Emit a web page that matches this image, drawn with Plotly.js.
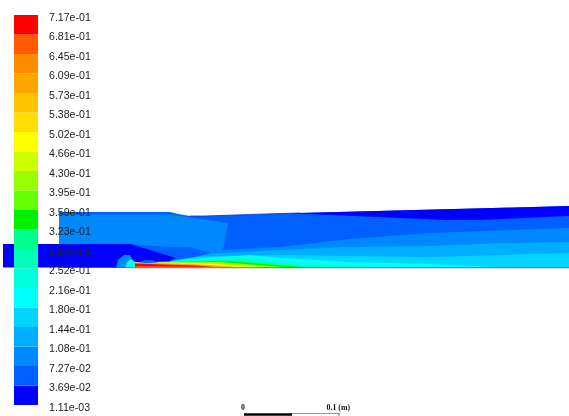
<!DOCTYPE html>
<html><head><meta charset="utf-8">
<script src="https://cdn.plot.ly/plotly-3.0.1.min.js"></script>
<style>html,body{margin:0;padding:0;background:#fff}#c{width:569px;height:416px;filter:blur(0.6px)}</style>
</head><body><div id="c"></div>
<script>
// Colour scale, bottom to top
const levelLabels = ["1.11e-03","3.69e-02","7.27e-02","1.08e-01","1.44e-01","1.80e-01","2.16e-01","2.52e-01","2.87e-01","3.23e-01","3.59e-01","3.95e-01","4.30e-01","4.66e-01","5.02e-01","5.38e-01","5.73e-01","6.09e-01","6.45e-01","6.81e-01","7.17e-01"];
const bandColors = ["#0000ff","#0060ff","#0088ff","#00aeff","#00d4ff","#00ffff","#00ffdc","#00ffb8","#00ff8c","#00f000","#66ff00","#99ff00","#ccff00","#ffff00","#ffdd00","#ffc400","#ffa500","#ff8c00","#ff5a00","#ff0000"];

// Contour regions (x along the wall, y down the picture)
const domainX = [59,170,178,190,205,280,569,569,59];
const domainY = [212,212,214,216,216,213.5,206,267.5,267.5];
const outerX = [59,170,190,228,223,280,350,430,569,569,59];
const outerY = [214.5,214.5,217.5,223,250,247,239,233,228,267.5,267.5];
const jetTopX = [290,330,400,447,480,569,569,280];
const jetTopY = [213.2,215,218,220,220,216,206,213.5];
const edgeX = [190,205,280,300];
const edgeY = [216,216,213.5,213];
const band3X = [170,190,212,225,280,350,430,500,569,569,170];
const band3Y = [261,256,253.5,253,250,247,246,243,242,267.5,267.5];
const band4X = [170,190,225,280,350,430,500,569,569,170];
const band4Y = [261.5,257,256,255,256,257,255,253,267.5,267.5];
const band5X = [170,190,250,280,350,430,507,170];
const band5Y = [262,259,255,258,262,264,267.5,267.5];
const band6X = [170,190,240,280,340,397,170];
const band6Y = [262,260,257,261,265,267.5,267.5];
const band7X = [170,190,235,280,310,340,170];
const band7Y = [262.5,261,259,263.5,266,267.5,267.5];
const band9X = [160,190,230,270,310,160];
const band9Y = [262.5,262,261,264.5,267.5,267.5];
const band11X = [150,190,220,270,290,150];
const band11Y = [262.5,262.5,262,266,267.5,267.5];
const band13X = [133,200,240,265,133];
const band13Y = [262,263,265.5,267.5,267.5];
const band16X = [134,190,225,245,134];
const band16Y = [262.5,264,266,267.5,267.5];
const band19X = [135,170,195,215,195,135];
const band19Y = [263.5,264.5,265.5,267,266.8,266.5];
const wedgeX = [128,170,190,212,195,175,135,128];
const wedgeY = [244,247,247,253,257,260,262.5,255];
const inletX = [3,130,150,176,170,150,135,3];
const inletY = [244,244,250,258,261,262,267.5,267.5];
const domeX = [116,118,124,130,134,134,116];
const domeY = [267.5,260,255,255,262,267.5,267.5];
const domeInnerX = [125,127,131,135,135,125];
const domeInnerY = [267.5,262,259,262,267.5,267.5];
const lensX = [138,145,153,158,148,138];
const lensY = [262.5,260,260,262.5,263,262.5];
const wallX = [134,569];
const wallY = [267.8,267.8];

// Scale bar
const scaleBlackX = [244,292];
const scaleWhiteX = [292,339];
const scaleY = [414.5,414.5];
const scaleTextX = [245,350];
const scaleTextY = [408.3,408.3];
const scaleText = ["0","0.1 (m)"];

function region(x,y,level){
  return {type:'scatter',mode:'lines',x:x,y:y,fill:'toself',fillcolor:bandColors[level],
    line:{width:0},hoverinfo:'skip',showlegend:false,xaxis:'x',yaxis:'y'};
}
function stroke(x,y,color,w){
  return {type:'scatter',mode:'lines',x:x,y:y,line:{color:color,width:w},hoverinfo:'skip',showlegend:false,xaxis:'x',yaxis:'y'};
}
const bandIndex = bandColors.map((_,i)=>i);
const traces = [
  region(domainX,domainY,1),
  region(outerX,outerY,2),
  region(jetTopX,jetTopY,0),
  stroke(edgeX,edgeY,'#0030e0',0.8),
  region(band3X,band3Y,3),
  region(band4X,band4Y,4),
  region(band5X,band5Y,5),
  region(band6X,band6Y,6),
  region(band7X,band7Y,7),
  region(wedgeX,wedgeY,1),
  region(inletX,inletY,0),
  region(band9X,band9Y,9),
  region(band11X,band11Y,11),
  region(band13X,band13Y,13),
  region(band16X,band16Y,16),
  region(band19X,band19Y,19),
  region(domeX,domeY,2),
  region(domeInnerX,domeInnerY,5),
  region(lensX,lensY,1),
  stroke(wallX,wallY,'#406070',0.7),
  stroke(scaleBlackX,scaleY,'#000',2.5),
  stroke(scaleWhiteX,[413.5,413.5],'#999',1),
  stroke([339,339],[413,416],'#666',1),
  {type:'scatter',mode:'text',x:scaleTextX,y:scaleTextY,text:scaleText,textposition:'middle left',
   textfont:{family:'Liberation Serif',size:7.8,color:'#111',weight:'bold'},hoverinfo:'skip',showlegend:false,xaxis:'x',yaxis:'y'},
  {type:'bar',x:bandIndex.map(()=>26),y:bandIndex.map(()=>1),base:bandIndex,width:24,
   marker:{color:bandColors,line:{width:0}},hoverinfo:'skip',showlegend:false,xaxis:'x2',yaxis:'y2'}
];
const hidden = {visible:false,fixedrange:true};
const layout = {
  width:569,height:416,margin:{l:0,r:0,t:0,b:0},paper_bgcolor:'#fff',plot_bgcolor:'rgba(0,0,0,0)',showlegend:false,
  xaxis:Object.assign({range:[0,569],domain:[0,1]},hidden),
  yaxis:Object.assign({range:[416,0],domain:[0,1]},hidden),
  xaxis2:Object.assign({range:[0,569],domain:[0,1],anchor:'y2',overlaying:'x'},hidden),
  yaxis2:{range:[-0.564,20.77],domain:[0,1],anchor:'free',overlaying:'y',side:'right',position:48/569,
    tickmode:'array',tickvals:levelLabels.map((_,i)=>i-0.1),ticktext:levelLabels,
    ticks:'',showgrid:false,zeroline:false,showline:false,fixedrange:true,
    tickfont:{family:'Liberation Sans',size:10.6,color:'#222'}}
};
Plotly.newPlot('c',traces,layout,{displayModeBar:false,staticPlot:true});
</script></body></html>
